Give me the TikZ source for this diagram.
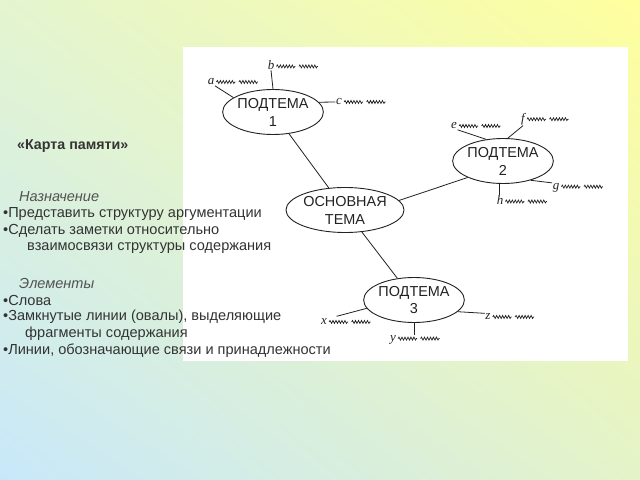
\documentclass[tikz,border=0pt]{standalone}
\usepackage{fontspec}
\setmainfont{Liberation Sans}
\newfontfamily\handfont{Liberation Serif}
\usetikzlibrary{shapes.geometric,shadings,decorations.pathmorphing,calc}
\definecolor{bgTL}{HTML}{E4F5CF}
\definecolor{bgTR}{HTML}{FFFF9E}
\definecolor{bgBL}{HTML}{C8E8FA}
\definecolor{bgBR}{HTML}{E4F3C8}
\definecolor{textgray}{HTML}{333333}
\definecolor{inkgray}{HTML}{222222}

% two "ham ham" squiggles after a branch letter
\newcommand\hamham[1]{%
	\draw[scribble] ($(#1.base east)+(1.5,-3)$) -- ++(19,0);
	\draw[scribble] ($(#1.base east)+(24,-3)$) -- ++(19,0);
}

\begin{document}
\begin{tikzpicture}[
	x=1bp, y=-1bp,
	topic/.style = {
		ellipse, draw=inkgray, line width=0.9pt,
		minimum width=98bp, minimum height=45bp,
		inner sep=0pt, align=center,
		font=\fontsize{14.5}{18}\selectfont, text=inkgray,
	},
	letter/.style = {
		inner sep=0.5pt, text=inkgray,
		font=\handfont\itshape\fontsize{13}{13}\selectfont,
	},
	scribble/.style = {
		inkgray, line width=0.7pt, decorate,
		decoration={snake, amplitude=1.5pt, segment length=3pt},
	},
	branch/.style = {inkgray, line width=0.8pt},
	txt/.style = {
		anchor=west, inner sep=0pt, text=textgray,
		font=\fontsize{14.6}{16}\selectfont,
	},
]

% background
\shade[upper left=bgTL, upper right=bgTR, lower left=bgBL, lower right=bgBR]
	(0,480) rectangle (640,0);
\useasboundingbox (0,0) rectangle (640,480);

% white sheet
\fill[white] (183,47) rectangle (628,361);

% main topic and subtopics
\node[topic] (main) at (345,210) {ОСНОВНАЯ\\ТЕМА};
\node[topic] (p1) at (273,112) {ПОДТЕМА\\1};
\node[topic] (p2) at (503,161) {ПОДТЕМА\\2};
\node[topic] (p3) at (414,300) {ПОДТЕМА\\3};

\draw[branch] (p1) -- (main);
\draw[branch] (main.10) -- (p2.205);
\draw[branch] (main) -- (p3);

% branches of subtopic 1
\node[letter] (la) at (211,82) {a};
\node[letter] (lb) at (271,65) {b};
\node[letter] (lc) at (339,102) {c};
\hamham{la}
\hamham{lb}
\hamham{lc}
\draw[branch] (p1.160) -- (la.south east);
\draw[branch] (p1.north) -- (lb.south);
\draw[branch] (p1.12) -- (lc.west);

% branches of subtopic 2
\node[letter] (le) at (454,126) {e};
\node[letter] (lf) at (523,119) {f};
\node[letter] (lg) at (556,188) {g};
\node[letter] (lh) at (500,200) {h};
\hamham{le}
\hamham{lf}
\hamham{lg}
\hamham{lh}
\draw[branch] (p2.128) -- (le.south east);
\draw[branch] (p2.78) -- (lf.south);
\draw[branch] (p2.-35) -- (lg.north west);
\draw[branch] (p2.-98) -- (p2.-98 |- lh.north);

% branches of subtopic 3
\node[letter] (lx) at (324,322) {x};
\node[letter] (ly) at (393,340) {y};
\node[letter] (lz) at (488,317) {z};
\hamham{lx}
\hamham{ly}
\hamham{lz}
\draw[branch] (p3.190) -- ($(lx.north east)+(9,-2)$);
\draw[branch] (p3.south) -- (p3.south |- ly.north);
\draw[branch] (p3.-15) -- (lz.north west);

% text on the left
\node[txt, font=\bfseries\fontsize{14.3}{16}\selectfont] (title) at (17,146) {«Карта памяти»};
\node[txt, font=\itshape\fontsize{14.6}{16}\selectfont, text=textgray!85] (aim) at (19,197) {Назначение};
\node[txt] (aim1) at (3,214) {•Представить структуру аргументации};
\node[txt] (aim2) at (3,231) {•Сделать заметки относительно};
\node[txt] (aim3) at (27,248) {взаимосвязи структуры содержания};
\node[txt, font=\itshape\fontsize{14.6}{16}\selectfont, text=textgray!85] (elem) at (19,283) {Элементы};
\node[txt] (elem1) at (3,300) {•Слова};
\node[txt] (elem2) at (3,317) {•Замкнутые линии (овалы), выделяющие};
\node[txt] (elem3) at (25,334) {фрагменты содержания};
\node[txt] (elem4) at (3,351) {•Линии, обозначающие связи и принадлежности};

\end{tikzpicture}
\end{document}
